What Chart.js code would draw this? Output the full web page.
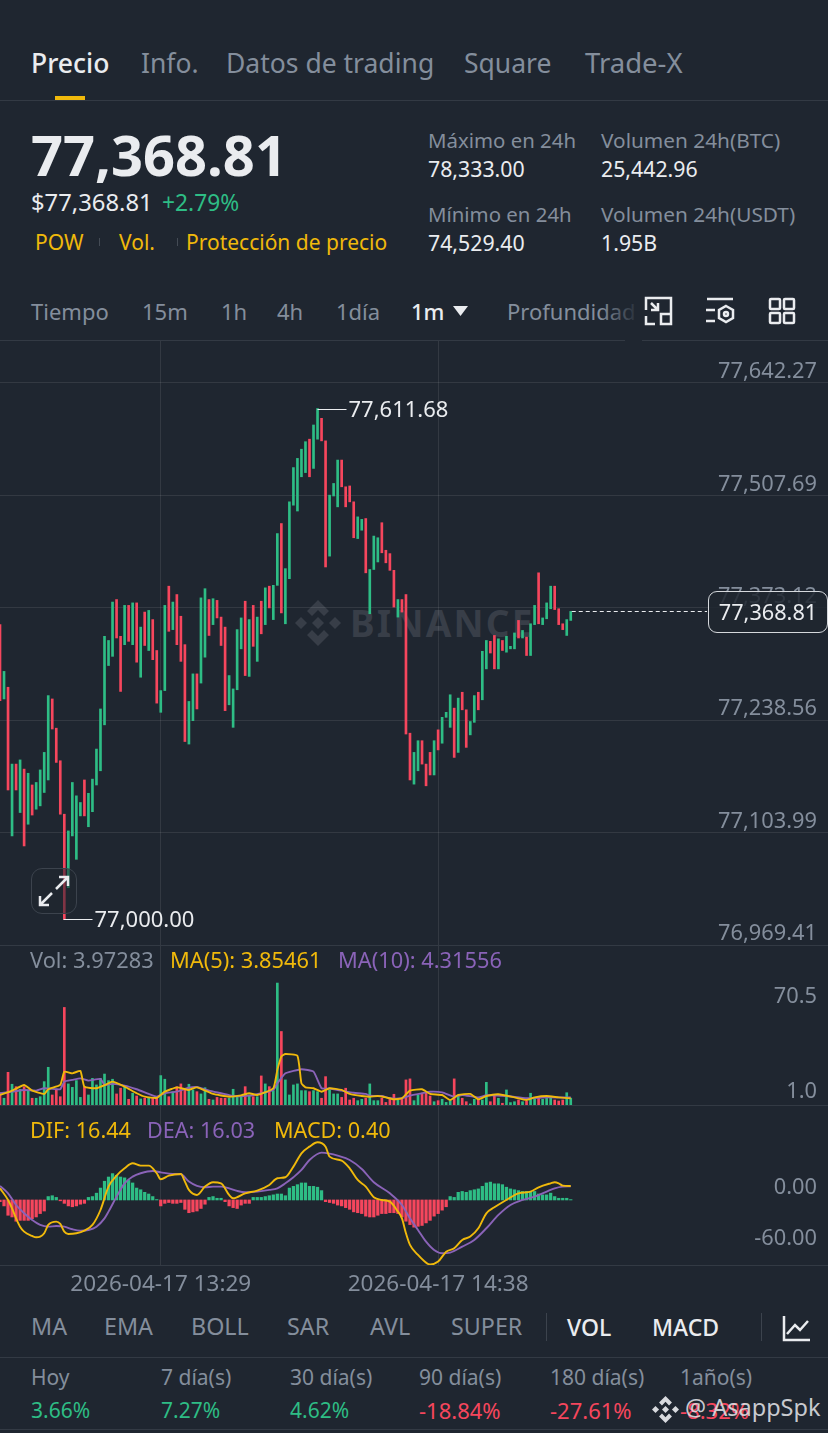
<!DOCTYPE html>
<html>
<head>
<meta charset="utf-8">
<script src="https://cdn.jsdelivr.net/npm/chart.js@4"></script>
<style>
html, body { margin: 0; padding: 0; background: #1f2630; }
body { width: 828px; height: 1433px; overflow: hidden; position: relative; font-family: "Noto Sans", sans-serif; color: #eaecef; }
.t { position: absolute; white-space: nowrap; line-height: 1; transform: translateY(-50%); }
.gray { color: #848e9c; }
.yellow { color: #f0b90b; }
.purple { color: #8a63b8; }
.green { color: #2ebd85; }
.red { color: #f6465d; }
.line { position: absolute; left: 0; width: 828px; height: 1px; background: #333a44; }
.chartbox { position: absolute; left: 0; width: 828px; }
#mark { position: absolute; left: 295px; top: 597px; display: flex; align-items: center; gap: 9px; color: #383e48; font-size: 37px; font-weight: 700; letter-spacing: 2.2px; }
#badge { position: absolute; left: 708px; top: 591px; width: 118px; height: 40px; border: 1px solid #d5d8dc; border-radius: 9px; background: rgba(31,38,48,.86); color: #eaecef; font-size: 21.7px; text-align: center; line-height: 40px; }
#expand { position: absolute; left: 31px; top: 868px; width: 44px; height: 44px; border: 1.5px solid #3c434d; border-radius: 11px; background: rgba(31,38,48,.55); }
#fade { position: absolute; left: 600px; top: 296px; width: 40px; height: 30px; background: linear-gradient(90deg, rgba(31,38,48,0), #1f2630); }
</style>
</head>
<body>

<div id="mark">
<svg width="46" height="46" viewBox="0 0 46 46" fill="#383e48"><path d="M23 0 34 11 29 16 23 10 17 16 12 11Z"/><path d="M23 46 12 35 17 30 23 36 29 30 34 35Z"/><path d="M6 17 12 23 6 29 0 23Z"/><path d="M40 17 46 23 40 29 34 23Z"/><path d="M23 17 29 23 23 29 17 23Z"/></svg>
<span>BINANCE</span>
</div>

<div class="chartbox" style="top:340px;height:605px"><canvas id="priceChart"></canvas></div>
<div class="chartbox" style="top:945px;height:160px"><canvas id="volChart"></canvas></div>
<div class="chartbox" style="top:1105px;height:196px"><canvas id="macdChart"></canvas></div>

<div class="line" style="top:100px"></div>
<div class="line" style="top:340px;width:625px"></div>
<div class="line" style="top:340px;left:642px;width:186px"></div>
<div class="line" style="top:945px"></div>
<div class="line" style="top:1105px"></div>
<div class="line" style="top:1265px"></div>
<div class="line" style="top:1357px"></div>
<div class="line" style="top:1429px"></div>

<span class="t" style="left:31px;top:62.5px;font-size:26.5px;font-weight:500">Precio</span>
<span class="t gray" style="left:141px;top:62.5px;font-size:26.5px">Info.</span>
<span class="t gray" style="left:226px;top:62.5px;font-size:26.5px">Datos de trading</span>
<span class="t gray" style="left:464px;top:62.5px;font-size:26.5px">Square</span>
<span class="t gray" style="left:585px;top:62.5px;font-size:27.5px">Trade-X</span>
<div style="position:absolute;left:55px;top:96px;width:30px;height:4px;background:#f0b90b"></div>

<span class="t" style="left:31px;top:154px;font-size:56px;font-weight:700">77,368.81</span>
<span class="t" style="left:31px;top:202.5px;font-size:23.8px">$77,368.81</span>
<span class="t green" style="left:162px;top:202.5px;font-size:22.8px">+2.79%</span>
<span class="t yellow" style="left:35px;top:241.5px;font-size:21px">POW</span>
<span class="t yellow" style="left:119px;top:241.5px;font-size:21px">Vol.</span>
<span class="t yellow" style="left:186px;top:241.5px;font-size:21px">Protección de precio</span>
<div style="position:absolute;left:99px;top:238px;width:1px;height:8px;background:#444b55"></div>
<div style="position:absolute;left:177px;top:238px;width:1px;height:8px;background:#444b55"></div>

<span class="t gray" style="left:428px;top:140px;font-size:20.4px">Máximo en 24h</span>
<span class="t" style="left:428px;top:169px;font-size:21.3px">78,333.00</span>
<span class="t gray" style="left:601px;top:140px;font-size:20.8px">Volumen 24h(BTC)</span>
<span class="t" style="left:601px;top:169px;font-size:21.3px">25,442.96</span>
<span class="t gray" style="left:428px;top:214px;font-size:20.4px">Mínimo en 24h</span>
<span class="t" style="left:428px;top:243px;font-size:21.3px">74,529.40</span>
<span class="t gray" style="left:601px;top:214px;font-size:20.8px">Volumen 24h(USDT)</span>
<span class="t" style="left:601px;top:243px;font-size:21.3px">1.95B</span>

<span class="t gray" style="left:31px;top:310.5px;font-size:22px">Tiempo</span>
<span class="t gray" style="left:142px;top:310.5px;font-size:22px">15m</span>
<span class="t gray" style="left:221px;top:310.5px;font-size:22px">1h</span>
<span class="t gray" style="left:277px;top:310.5px;font-size:22px">4h</span>
<span class="t gray" style="left:336px;top:310.5px;font-size:22px">1día</span>
<span class="t" style="left:411px;top:310.5px;font-size:22px;font-weight:500">1m</span>
<svg style="position:absolute;left:453px;top:306px" width="15" height="10"><path d="M0 0H15L7.5 10Z" fill="#eaecef"/></svg>
<span class="t gray" style="left:507px;top:310.5px;font-size:22px">Profundidad</span>
<div id="fade"></div>
<svg style="position:absolute;left:644px;top:296px" width="30" height="30" fill="none" stroke="#eaecef" stroke-width="2.5"><path d="M2 14V2H27V18M2 20V28H11M17 18H27V28H17ZM7 7 14 14M7 14H14V7"/></svg>
<svg style="position:absolute;left:705px;top:297px" width="30" height="30" fill="none" stroke="#eaecef" stroke-width="2.5"><path d="M2 2H28M1 13H10M1 24H10M21 9 28 13V21L21 25 14 21V13Z"/><circle cx="21" cy="17" r="2"/></svg>
<svg style="position:absolute;left:768px;top:297px" width="28" height="28" fill="none" stroke="#eaecef" stroke-width="2.5"><rect x="2" y="2" width="10" height="10" rx="1"/><rect x="16" y="2" width="10" height="10" rx="1"/><rect x="2" y="16" width="10" height="10" rx="1"/><rect x="16" y="16" width="10" height="10" rx="1"/></svg>

<div id="badge">77,368.81</div>
<div id="expand"><svg width="44" height="44" fill="none" stroke="#eaecef" stroke-width="2.5"><path d="M24 20 35 9M27 8H36V17M20 24 9 35M8 27V36H17"/></svg></div>

<span class="t gray" style="left:30px;top:960px;font-size:21.8px">Vol: 3.97283</span>
<span class="t yellow" style="left:170px;top:960px;font-size:21.8px">MA(5): 3.85461</span>
<span class="t purple" style="left:338px;top:960px;font-size:21.8px">MA(10): 4.31556</span>
<span class="t yellow" style="left:30px;top:1130px;font-size:21.6px">DIF: 16.44</span>
<span class="t purple" style="left:147px;top:1130px;font-size:21.6px">DEA: 16.03</span>
<span class="t yellow" style="left:274px;top:1130px;font-size:21.6px">MACD: 0.40</span>

<span class="t gray" style="left:31px;top:1326.5px;font-size:23.3px">MA</span>
<span class="t gray" style="left:104px;top:1326.5px;font-size:23.3px">EMA</span>
<span class="t gray" style="left:191px;top:1326.5px;font-size:23.3px">BOLL</span>
<span class="t gray" style="left:287px;top:1326.5px;font-size:23.3px">SAR</span>
<span class="t gray" style="left:370px;top:1326.5px;font-size:23.3px">AVL</span>
<span class="t gray" style="left:451px;top:1326.5px;font-size:23.3px">SUPER</span>
<div style="position:absolute;left:546px;top:1313px;width:1px;height:28px;background:#3c434d"></div>
<span class="t" style="left:567px;top:1326.5px;font-size:23px;font-weight:500">VOL</span>
<span class="t" style="left:652px;top:1326.5px;font-size:23px;font-weight:500">MACD</span>
<div style="position:absolute;left:761px;top:1313px;width:1px;height:28px;background:#3c434d"></div>
<svg style="position:absolute;left:781px;top:1313px" width="30" height="30" fill="none" stroke="#eaecef" stroke-width="2.5"><path d="M3 3V27H29M6 21 14 12 19 17 27 8"/></svg>

<span class="t gray" style="left:31px;top:1376.5px;font-size:21px">Hoy</span>
<span class="t gray" style="left:161px;top:1376.5px;font-size:21px">7 día(s)</span>
<span class="t gray" style="left:290px;top:1376.5px;font-size:21px">30 día(s)</span>
<span class="t gray" style="left:419px;top:1376.5px;font-size:21px">90 día(s)</span>
<span class="t gray" style="left:550px;top:1376.5px;font-size:21px">180 día(s)</span>
<span class="t gray" style="left:680px;top:1376.5px;font-size:21px">1año(s)</span>
<span class="t green" style="left:31px;top:1409.5px;font-size:21px">3.66%</span>
<span class="t green" style="left:161px;top:1409.5px;font-size:21px">7.27%</span>
<span class="t green" style="left:290px;top:1409.5px;font-size:21px">4.62%</span>
<span class="t red" style="left:419px;top:1409.5px;font-size:22px">-18.84%</span>
<span class="t red" style="left:550px;top:1409.5px;font-size:22px">-27.61%</span>
<span class="t red" style="left:680px;top:1409.5px;font-size:22px">-8.32%</span>
<svg style="position:absolute;left:652px;top:1396px" width="27" height="27" viewBox="0 0 46 46" fill="#d8dade"><path d="M23 0 34 11 29 16 23 10 17 16 12 11Z"/><path d="M23 46 12 35 17 30 23 36 29 30 34 35Z"/><path d="M6 17 12 23 6 29 0 23Z"/><path d="M40 17 46 23 40 29 34 23Z"/><path d="M23 17 29 23 23 29 17 23Z"/></svg>
<span class="t" style="left:685px;top:1408px;font-size:23.5px;color:rgba(225,227,231,.88)">@ AsappSpk</span>

<script>
/* CANDLES, oldest first */
const candleOpen = [77353,77264,77278,77100,77186,77128,77180,77114,77161,77132,77136,77152,77167,77264,77229,77190,77126,77038,77100,77072,77124,77167,77111,77129,77161,77178,77233,77304,77315,77383,77339,77329,77376,77329,77379,77290,77368,77322,77359,77322,77248,77274,77399,77347,77389,77363,77329,77210,77238,77294,77283,77314,77383,77353,77382,77362,77350,77257,77230,77275,77324,77381,77291,77376,77309,77381,77353,77399,77359,77400,77474,77354,77408,77496,77489,77530,77535,77575,77540,77575,77600,77573,77435,77507,77494,77550,77518,77519,77500,77456,77466,77480,77366,77419,77428,77475,77442,77438,77418,77362,77383,77389,77223,77162,77178,77214,77186,77200,77173,77227,77211,77242,77230,77253,77200,77272,77251,77221,77236,77272,77263,77300,77333,77340,77300,77334,77320,77324,77324,77358,77337,77338,77316,77353,77415,77353,77360,77372,77399,77372,77354,77340,77358];
const candleClose = [77262,77297,77155,77186,77155,77191,77088,77175,77125,77164,77179,77200,77268,77228,77188,77126,77000.00,77106,77164,77148,77140,77124,77151,77168,77204,77252,77339,77334,77380,77337,77273,77376,77333,77379,77308,77350,77328,77370,77311,77259,77274,77376,77345,77380,77329,77309,77213,77261,77294,77252,77385,77396,77340,77384,77361,77328,77250,77292,77276,77347,77361,77292,77359,77327,77362,77342,77397,77373,77400,77462,77367,77420,77500,77541,77552,77563,77572,77530,77592,77611.68,77573,77422,77508,77522,77550,77518,77494,77500,77457,77482,77479,77415,77419,77459,77457,77439,77427,77418,77374,77383,77368,77222,77167,77200,77214,77186,77160,77173,77214,77203,77242,77248,77269,77194,77265,77251,77206,77237,77268,77251,77321,77334,77319,77300,77336,77322,77339,77327,77343,77337,77346,77316,77354,77376,77354,77361,77379,77399,77371,77353,77347,77359,77368.81];

/* VOLUME */
const volumes = [7.1,3.9,18.9,12,10.6,9.1,10.6,8.3,3.9,3.9,4.8,13.5,21.8,5.8,8.7,4.8,56.4,12.2,10.2,14.1,4.4,10.6,5.8,15.4,11.6,15.4,17.9,14.1,14.9,6.4,9.7,10.6,3.3,6.8,5.2,3.5,3.9,4.2,3.9,3.9,17,14.9,4.8,7.7,10.6,12.2,9.7,12,8.7,7.7,6.4,10,3.3,2.9,4.4,3.9,3.9,3.9,9.1,5.2,5.2,10.6,5.8,4.8,4.8,16.8,12.2,10.6,8.3,70.5,42.5,14.5,5.8,11.6,12.2,8.3,8.3,7.7,8.3,7.7,3.9,16.4,8.7,6.4,6.4,4.4,9.7,2.9,3.9,2.5,3.3,3.9,12.2,2.5,2.5,3.9,1.5,3.9,6.2,2.9,3.3,14.5,15.1,2.5,5.8,6.8,6.8,5.2,1.9,2.5,3.3,1.5,2.5,15.1,5.2,3.9,1.9,0.6,3.3,3.3,2.9,13.1,1.9,5.2,3.9,1,8.7,1.4,1.9,2.9,1.9,2.3,6.8,3.3,3.9,3.3,3.9,3.9,2.9,2.3,2.9,7.1,3.97];
const ma5At = [0,3,6,8,11,12,15,16,18,20,21,24,27,28,31,34,36,39,41,44,47,49,53,57,60,62,64,68,69,70,71,74,75,76,78,80,82,85,87,90,92,94,96,98,100,102,105,107,110,112,114,117,119,121,124,128,131,133,136,139,142];
const ma5Values = [5.8,8.3,11.6,8.3,6.4,9.1,11.6,19.3,18.3,19.7,10.6,9.7,12.5,13.5,10.6,6.8,4.8,4.1,7.7,10.2,8.7,10.2,6.4,4.8,5.6,6.8,5.8,9.7,20.3,28,29.5,28.4,12.5,10.2,9.7,7.7,9.7,8.7,6.4,5.2,4.8,5.2,4.4,3.3,3.9,8.3,9.1,6.4,5.8,2.9,5.8,6.4,3.3,5.2,6.2,4.4,2.9,4.4,5.2,4.4,3.85];
const ma10At = [0,3,6,9,11,14,15,16,18,20,22,25,26,28,31,34,37,39,41,44,47,49,52,55,58,62,65,68,69,71,73,75,78,80,82,85,88,91,92,95,97,100,102,105,107,110,113,115,119,121,126,131,136,142];
const ma10Values = [6.8,7.7,8.7,8.3,9.7,9.1,9.1,13.5,14.5,15.4,14.1,15.1,11.6,12.2,11.2,9.1,6.4,4.8,6.8,7.7,10,10.4,8.3,6.8,5.2,5.4,6.8,8.7,12.5,18.3,19.7,20.7,19.3,9.7,9.5,8.3,7.1,6.4,5.4,5.2,3.9,3.9,5.4,6.8,7.7,7.3,4.8,5.8,4.4,5.6,5.2,3.9,4.4,4.31];

/* MACD */
const macdBars = [-2,-7,-18,-20,-25,-24,-24,-24,-22,-20,-16,-13,4,5,3,-1,-4,-7,-8,-7,-5,-4,3,4,8,14,22,27,31,29,27,26,23,20,14,12,9,7,4,0.5,-7,-4,-3,-4,-4,-3,-11,-15,-14,-13,-10,-5,3,4,2,2,-2,-7,-9,-10,-6,-4,-4,3,3,3,4,5,6,7,7,5,14,16,18,20,20,16,16,15,11,-2,-3,-4,-6,-7,-9,-11,-14,-15,-16,-19,-20,-20,-18,-16,-16,-15,-15,-16,-20,-25,-29,-32,-31,-30,-27,-24,-19,-16,-12,-8,4,3,9,10,9,11,12,13,16,20,21,19,19,18,15,13,12,11,10,10,10,10,7,6,6,8,4,2,2,2,0.4];
const difAt = [0,2,3,4,5,6,8,9,10,11,12,14,15,16,17,19,21,23,25,27,29,31,33,35,37,39,40,42,45,46,47,49,51,53,55,57,58,61,64,67,69,71,73,75,77,79,81,82,85,87,89,91,93,95,97,99,100,101,102,104,106,107,109,111,113,115,117,119,121,123,126,129,132,134,137,138,139,140,142];
const difValues = [13.7,0,-9.8,-21.6,-31.4,-37.2,-42.3,-43.9,-43.1,-39.2,-29.4,-25.5,-28.2,-37.2,-40,-39.2,-36.1,-29.4,-11.8,15.7,28.6,37.2,43.1,40.4,40.4,31.4,24.3,28.6,30.6,21.6,11.8,5.9,15.7,20.8,19.6,5.9,2,7.8,11,17.6,25.5,26.7,39.2,54.9,62.7,67.8,62.7,51,46.3,37.2,23.5,15.7,3.1,0,-2,-13.7,-21.6,-39.2,-52.9,-64.7,-73.7,-76,-72.5,-60.8,-56.8,-47,-43.1,-33.3,-15.7,-8.6,0,7.8,9.8,14.9,19.6,20.8,19.6,16.9,16.44];
const deaAt = [0,2,4,6,8,10,12,14,16,18,20,22,24,26,27,29,31,33,35,38,40,43,45,47,49,51,53,55,57,59,61,64,67,69,71,73,75,77,80,82,84,87,90,93,97,100,102,104,106,108,110,112,115,118,121,124,127,130,133,136,138,140,142];
const deaValues = [16.5,7.8,-5.9,-15.7,-23.5,-29.4,-31.4,-30.6,-31.4,-34.5,-36.1,-35.3,-31.4,-21.6,-13.7,3.9,19.6,27.4,31.4,34.1,32.5,30.6,30.2,21.6,16.5,14.9,15.7,15.7,13.7,10.6,9,9.8,11.8,13.7,19.6,26.7,35.3,47,55.7,54.5,52.1,47,36.5,20.8,7.8,-5.9,-21.6,-35.3,-49,-58.8,-62.7,-61.9,-54.9,-47,-33.3,-17.6,-5.9,0,3.9,9.8,13.7,15.7,16.03];

/* TICK LABELS */
const priceTicks = [76969.41,77103.99,77238.56,77373.12,77507.69,77642.27];
const volTicks = [70.5,1.0];
const macdTicks = [-60,0];
const timeTickIndex = [40,109];

/* x slots: the empty right side of the chart is room for future candles */
const slotCount = 207;
const startMinute = 12 * 60 + 49;
const timeLabels = [];
for (let i = 0; i < slotCount; i++) {
    const m = startMinute + i;
    const hh = String(Math.floor(m / 60)).padStart(2, "0");
    const mm = String(m % 60).padStart(2, "0");
    timeLabels.push(`2026-04-17 ${hh}:${mm}`);
}

const GREEN = "#2ebd85";
const RED = "#f6465d";
const YELLOW = "#f0b90b";
const PURPLE = "#8a63b8";
const GRAY = "#848e9c";
const GRID = "rgba(255,255,255,0.09)";
const FONT = "'Noto Sans', sans-serif";

const candleColors = candleOpen.map((o, i) => candleClose[i] >= o ? GREEN : RED);

function money(v) {
    return v.toLocaleString("en-US", { minimumFractionDigits: 2, maximumFractionDigits: 2 });
}

/* lines are read at their turning points, gaps are spanned */
function sparse(at, values) {
    const out = new Array(candleOpen.length).fill(null);
    at.forEach((x, k) => { out[x] = values[k]; });
    return out;
}

function lineSet(at, values, color, smooth, order) {
    return {
        type: "line",
        data: sparse(at, values),
        spanGaps: true,
        order: order,
        borderColor: color,
        borderWidth: 1.9,
        pointRadius: 0,
        cubicInterpolationMode: smooth ? "monotone" : "default",
        tension: smooth ? 0.4 : 0.15
    };
}

function xAxis(showLabels) {
    return {
        type: "category",
        offset: false,
        border: { display: false },
        grid: { color: GRID, drawTicks: false, offset: false },
        ticks: {
            display: showLabels,
            autoSkip: false,
            maxRotation: 0,
            color: GRAY,
            padding: 6,
            font: { family: FONT, size: 22.5 }
        },
        afterBuildTicks: s => { s.ticks = timeTickIndex.map(v => ({ value: v })); },
        afterFit: s => { s.height = showLabels ? 36 : 0; }
    };
}

function yAxis(min, max, ticks, showGrid) {
    return {
        position: "right",
        min: min,
        max: max,
        border: { display: false },
        grid: { display: showGrid, color: GRID, drawTicks: false },
        ticks: { display: false },
        afterBuildTicks: s => { s.ticks = ticks.map(v => ({ value: v })); },
        afterFit: s => { s.width = 0; }
    };
}

function baseOptions(y, xa) {
    return {
        responsive: false,
        animation: false,
        events: [],
        layout: { padding: 0 },
        plugins: { legend: { display: false }, tooltip: { enabled: false } },
        scales: { x: xa, y: y }
    };
}

function makeCanvas(id, h) {
    const c = document.getElementById(id);
    c.width = 828;
    c.height = h;
    c.style.width = "828px";
    c.style.height = h + "px";
    return c;
}

/* axis labels sit over the plot, above or below their value */
function axisLabels(values, format, shifts) {
    return {
        id: "axisLabels",
        afterDraw(chart) {
            const { ctx, scales: { y } } = chart;
            ctx.save();
            ctx.fillStyle = GRAY;
            ctx.font = "21.8px " + FONT;
            ctx.textAlign = "right";
            ctx.textBaseline = "middle";
            values.forEach((v, k) => {
                ctx.fillText(format(v), 817, y.getPixelForValue(v) + shifts[k]);
            });
            ctx.restore();
        }
    };
}

/* high, low and last price marks */
const pricePlugin = {
    id: "priceMarks",
    afterDatasetsDraw(chart) {
        const { ctx, scales: { x, y } } = chart;
        const hi = candleClose.indexOf(Math.max(...candleClose));
        const lo = candleClose.indexOf(Math.min(...candleClose));
        ctx.save();
        ctx.strokeStyle = "#eaecef";
        ctx.fillStyle = "#eaecef";
        ctx.lineWidth = 1;
        ctx.font = "22px " + FONT;
        ctx.textBaseline = "middle";
        [hi, lo].forEach(i => {
            const px = Math.round(x.getPixelForValue(i)) - 0.5;
            const py = Math.round(y.getPixelForValue(candleClose[i])) + 0.5;
            ctx.beginPath();
            ctx.moveTo(px, py);
            ctx.lineTo(px + 29, py);
            ctx.stroke();
            ctx.fillText(money(candleClose[i]), px + 31, py + 1);
        });
        const last = candleClose.length - 1;
        const ly = Math.round(y.getPixelForValue(candleClose[last])) + 0.5;
        ctx.setLineDash([4, 3]);
        ctx.beginPath();
        ctx.moveTo(x.getPixelForValue(last) + 1, ly);
        ctx.lineTo(707, ly);
        ctx.stroke();
        ctx.restore();
    }
};

/* PRICE */
new Chart(makeCanvas("priceChart", 605), {
    type: "bar",
    data: {
        labels: timeLabels,
        datasets: [{
            data: candleOpen.map((o, i) => [o, candleClose[i]]),
            backgroundColor: candleColors,
            barThickness: 2
        }]
    },
    options: baseOptions(yAxis(76969.41, 77693.75, priceTicks, true), xAxis(false)),
    plugins: [pricePlugin, axisLabels(priceTicks, money, priceTicks.map(() => -11))]
});

/* VOL */
new Chart(makeCanvas("volChart", 160), {
    type: "bar",
    data: {
        labels: timeLabels,
        datasets: [
            { data: volumes, backgroundColor: candleColors, barThickness: 2, order: 3 },
            lineSet(ma5At, ma5Values, YELLOW, false, 1),
            lineSet(ma10At, ma10Values, PURPLE, false, 2)
        ]
    },
    options: baseOptions(yAxis(0, 92.5, volTicks, false), xAxis(false)),
    plugins: [axisLabels(volTicks, v => v.toFixed(1), [14, -11])]
});

/* MACD */
new Chart(makeCanvas("macdChart", 196), {
    type: "bar",
    data: {
        labels: timeLabels,
        datasets: [
            { data: macdBars, backgroundColor: macdBars.map(v => v >= 0 ? GREEN : RED), barThickness: 2.6, order: 3 },
            lineSet(difAt, difValues, YELLOW, true, 1),
            lineSet(deaAt, deaValues, PURPLE, true, 2)
        ]
    },
    options: baseOptions(yAxis(-76.5, 111.7, macdTicks, false), xAxis(true)),
    plugins: [axisLabels(macdTicks, v => v.toFixed(2), [-12, -12])]
});
</script>
</body>
</html>
